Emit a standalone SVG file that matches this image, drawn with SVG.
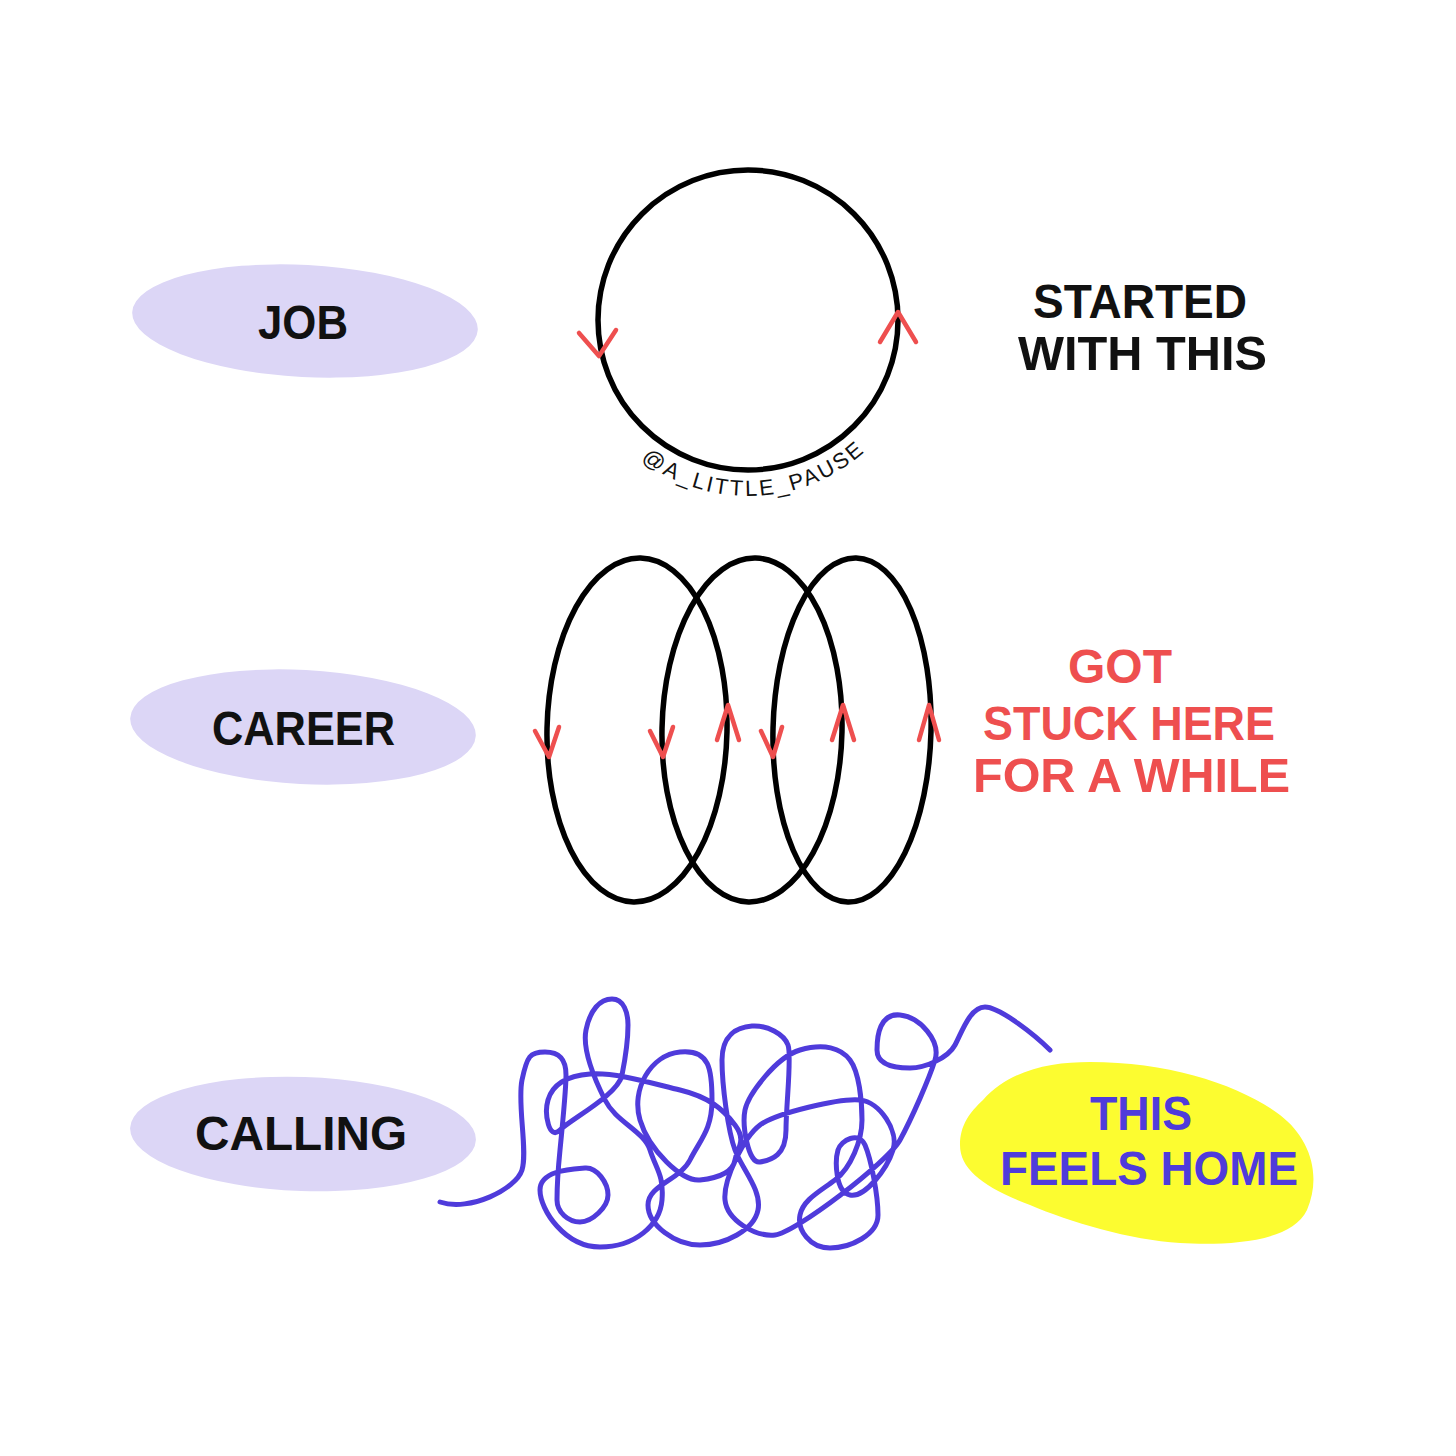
<svg xmlns="http://www.w3.org/2000/svg" width="1456" height="1456" viewBox="0 0 1456 1456">
<style>
.pill{fill:#dcd6f6}
.lbl{font-family:"Liberation Sans",Arial,sans-serif;font-weight:bold;font-size:48px;fill:#111}
.red{fill:#ee4f4f}
.blue{fill:#4f3bdb}
.loop{fill:none;stroke:#000;stroke-width:5.5}
.arr{fill:none;stroke:#ee4f4f;stroke-width:4.5;stroke-linecap:round;stroke-linejoin:round}
.scrib{fill:none;stroke:#4f3bdb;stroke-width:5;stroke-linecap:round;stroke-linejoin:round}
.wm{font-family:"Liberation Sans",Arial,sans-serif;font-size:22px;fill:#111;letter-spacing:2.5px}
</style>
<defs>
<path id="wmArc" d="M634.9,454.8 A176,176 0 0 0 882.8,433.1"/>
</defs>
<rect width="1456" height="1456" fill="#fff"/>

<g id="node-job">
<ellipse class="pill" cx="305" cy="321" rx="173" ry="56" transform="rotate(3 305 321)"/>
<text class="lbl" x="258" y="339" textLength="90" lengthAdjust="spacingAndGlyphs" font-size="56">JOB</text>
</g>
<g id="node-career">
<ellipse class="pill" cx="303" cy="727" rx="173" ry="57" transform="rotate(3 303 727)"/>
<text class="lbl" x="212" y="745" textLength="183" lengthAdjust="spacingAndGlyphs">CAREER</text>
</g>
<g id="node-calling">
<ellipse class="pill" cx="303" cy="1134" rx="173" ry="57" transform="rotate(2 303 1134)"/>
<text class="lbl" x="195" y="1150" textLength="212" lengthAdjust="spacingAndGlyphs">CALLING</text>
</g>

<g id="job-cycle">
<circle class="loop" cx="748" cy="320" r="150"/>
<path class="arr" d="M579,333 L599,356 L616,330"/>
<path class="arr" d="M880,342 L898,312 L916,342"/>
<text class="wm"><textPath href="#wmArc" startOffset="8">@A_LITTLE_PAUSE</textPath></text>
</g>
<g id="note-job">
<text class="lbl" x="1033" y="318" textLength="214" lengthAdjust="spacingAndGlyphs">STARTED</text>
<text class="lbl" x="1018" y="370" textLength="249" lengthAdjust="spacingAndGlyphs">WITH THIS</text>
</g>

<g id="career-cycles">
<ellipse class="loop" cx="637" cy="730" rx="90" ry="172" transform="rotate(1.2 637 730)"/>
<ellipse class="loop" cx="752" cy="730" rx="90" ry="172" transform="rotate(1.2 752 730)"/>
<ellipse class="loop" cx="852" cy="730" rx="79" ry="172" transform="rotate(1.4 852 730)"/>
<path class="arr" d="M535,731 L549,757 L559,727"/>
<path class="arr" d="M650,731 L663,757 L673,727"/>
<path class="arr" d="M761,731 L773,757 L782,727"/>
<path class="arr" d="M717,740 L728,705 L739,740"/>
<path class="arr" d="M832,740 L843,705 L854,740"/>
<path class="arr" d="M919,740 L929,705 L939,740"/>
</g>
<g id="note-career">
<text class="lbl red" x="1068" y="683" textLength="104" lengthAdjust="spacingAndGlyphs">GOT</text>
<text class="lbl red" x="983" y="740" textLength="292" lengthAdjust="spacingAndGlyphs">STUCK HERE</text>
<text class="lbl red" x="973" y="792" textLength="317" lengthAdjust="spacingAndGlyphs">FOR A WHILE</text>
</g>

<g id="calling-scribble">
<path class="scrib" d="M440,1202 C470,1212 516,1189 522,1170 S517,1104 522,1080 S530,1052 545,1052 S566,1060 566,1075 S563,1120 560,1150 S557,1188 557,1200 S568,1222 580,1222 S608,1207 608,1195 S597,1167 585,1168 S540,1170 540,1190 S565,1247 600,1247 S660,1225 662,1200 S656,1169 650,1150 S616,1122 605,1100 S582,1050 586,1030 S600,999 612,999 S628,1013 628,1025 S626,1055 622,1075 S571,1119 560,1130 S544,1114 548,1100 S565,1076 590,1074 S651,1083 680,1090 S723,1109 735,1125 S737,1148 735,1160 S718,1178 700,1180 S649,1150 640,1120 S650,1055 680,1052 S712,1070 712,1100 S700,1140 690,1160 S648,1185 648,1205 S675,1245 700,1245 S754,1230 758,1210 S742,1169 735,1150 S722,1085 722,1060 S737,1027 752,1026 S784,1034 788,1045 S786,1105 786,1130 S772,1160 760,1162 S742,1125 745,1110 S776,1057 800,1050 S841,1048 850,1060 S862,1100 862,1120 S851,1168 835,1180 S803,1200 800,1215 S810,1248 830,1248 S878,1235 878,1215 S871,1159 865,1145 S841,1140 838,1150 S835,1192 850,1195 S887,1169 893,1150 S880,1102 860,1100 S776,1113 760,1125 S723,1180 725,1200 S755,1237 775,1235 S888,1162 900,1140 S929,1079 935,1060 S920,1017 900,1015 S877,1035 877,1050 S895,1068 910,1068 S948,1058 955,1045 S970,1007 985,1007 S1036,1036 1050,1050"/>
</g>
<g id="node-home">
<path fill="#fcfc30" d="M983,1100 C1010,1070 1050,1062 1090,1062 C1170,1062 1240,1085 1280,1115 C1310,1138 1322,1175 1307,1210 C1290,1245 1220,1245 1180,1243 C1130,1240 1070,1222 1030,1205 C985,1188 960,1170 960,1145 C960,1125 970,1112 983,1100 Z"/>
<text class="lbl blue" x="1090" y="1130" textLength="102" lengthAdjust="spacingAndGlyphs">THIS</text>
<text class="lbl blue" x="1000" y="1185" textLength="298" lengthAdjust="spacingAndGlyphs">FEELS HOME</text>
</g>
</svg>
